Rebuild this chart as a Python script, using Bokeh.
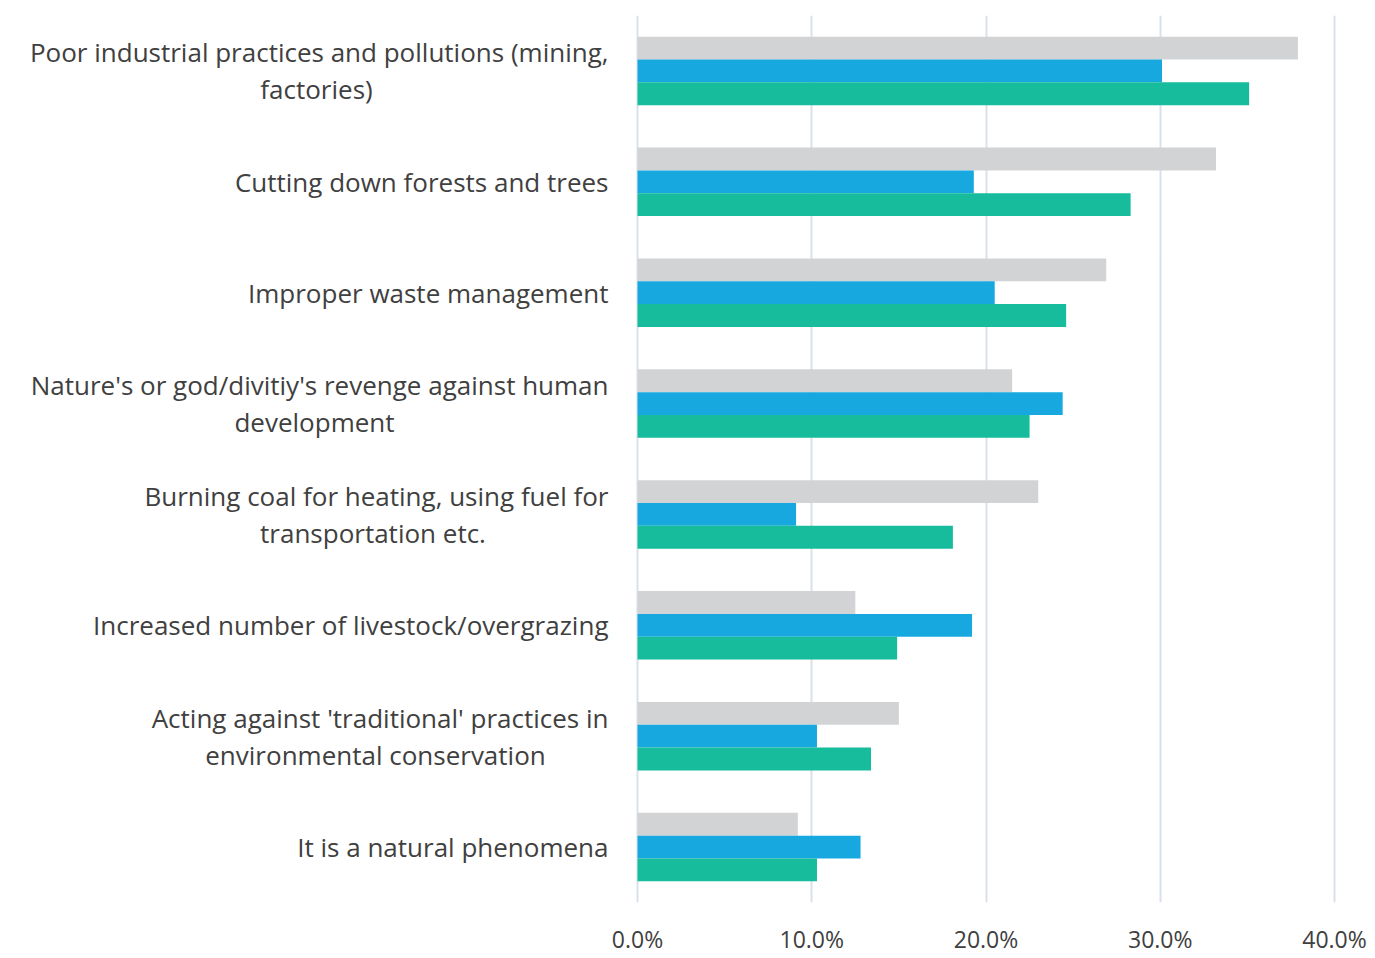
from bokeh.plotting import figure
from bokeh.models import Range1d, FixedTicker, PrintfTickFormatter, ColumnDataSource
from bokeh.core.properties import value
from bokeh.embed import file_html
from bokeh.resources import INLINE

# ---- data ----
categories = [
    ["Poor industrial practices and pollutions (mining,", "factories)"],
    ["Cutting down forests and trees"],
    ["Improper waste management"],
    ["Nature's or god/divitiy's revenge against human", "development"],
    ["Burning coal for heating, using fuel for", "transportation etc."],
    ["Increased number of livestock/overgrazing"],
    ["Acting against 'traditional' practices in", "environmental conservation"],
    ["It is a natural phenomena"],
]
series_gray = [37.9, 33.2, 26.9, 21.5, 23.0, 12.5, 15.0, 9.2]
series_blue = [30.1, 19.3, 20.5, 24.4, 9.1, 19.2, 10.3, 12.8]
series_green = [35.1, 28.3, 24.6, 22.5, 18.1, 14.9, 13.4, 10.3]
x_ticks = [0, 10, 20, 30, 40]

# ---- layout constants ----
PX0 = 637.0            # canvas x of 0%
PX_PER = 697.0 / 40.0  # px per percent
def px(x):
    return (x - PX0) / PX_PER

W, H = 1372, 958
TOP, BOTTOM = 15, 902
x_start = px(0)
x_end = px(W)

GRAY = "#D2D3D5"
BLUE = "#17A8E0"
GREEN = "#16BC9C"
TEXT = "#404040"
FONT = "Open Sans"
LABEL_SIZE = "26px"

p = figure(width=W, height=H, output_backend="svg", toolbar_location=None,
           x_range=Range1d(x_start, x_end), y_range=Range1d(len(categories) - 0.5, -0.5),
           y_axis_location=None, min_border_left=0, min_border_right=0,
           min_border_top=TOP, min_border_bottom=H - BOTTOM)
p.outline_line_color = None

idx = list(range(len(categories)))
bh = 0.206
src = ColumnDataSource(dict(i=idx, g=series_gray, b=series_blue, n=series_green,
                            yg=[i - bh for i in idx], yb=idx, yn=[i + bh for i in idx]))
p.hbar(y="yg", left=0, right="g", height=bh, source=src, fill_color=GRAY, line_color=None)
p.hbar(y="yb", left=0, right="b", height=bh, source=src, fill_color=BLUE, line_color=None)
p.hbar(y="yn", left=0, right="n", height=bh, source=src, fill_color=GREEN, line_color=None)

# grid
p.xaxis.ticker = FixedTicker(ticks=x_ticks)
p.xgrid.ticker = FixedTicker(ticks=x_ticks)
p.xgrid.grid_line_color = "#DAE0E8"
p.xgrid.grid_line_width = 2
p.ygrid.grid_line_color = None
p.xaxis.formatter = PrintfTickFormatter(format="%.1f%%")
p.xaxis.axis_line_color = None
p.xaxis.major_tick_line_color = None
p.xaxis.minor_tick_line_color = None
p.xaxis.major_tick_out = 0
p.xaxis.major_tick_in = 0
p.xaxis.minor_tick_out = 0
p.xaxis.major_label_text_font = FONT
p.xaxis.major_label_text_font_size = "23px"
p.xaxis.major_label_text_color = TEXT
p.xaxis.major_label_standoff = 20

# category labels
line_centers = {0: 316, 3: 314, 4: 372.5, 6: 375}
right_edge = px(608)
rx, ry, rt = [], [], []
cx, cy, ct = [], [], []
off = 18.5 / ((BOTTOM - TOP) / len(categories))
for i, lines in enumerate(categories):
    if len(lines) == 1:
        rx.append(right_edge); ry.append(i); rt.append(lines[0])
    else:
        rx.append(right_edge); ry.append(i - off); rt.append(lines[0])
        cx.append(px(line_centers[i])); cy.append(i + off); ct.append(lines[1])

p.text(x=rx, y=ry, text=rt, text_align="right", text_baseline="middle",
       text_font=value(FONT), text_font_size=LABEL_SIZE, text_color=TEXT)
p.text(x=cx, y=cy, text=ct, text_align="center", text_baseline="middle",
       text_font=value(FONT), text_font_size=LABEL_SIZE, text_color=TEXT)

open("out.html", "w").write(file_html(p, INLINE))
